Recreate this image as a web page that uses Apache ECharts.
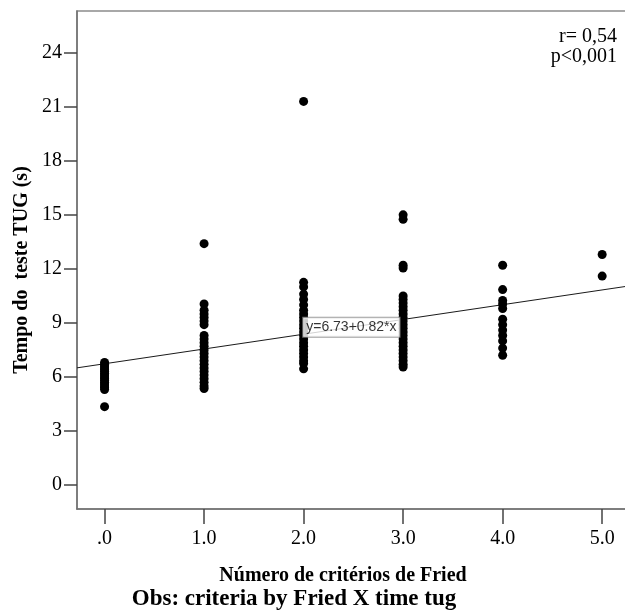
<!DOCTYPE html>
<html><head><meta charset="utf-8">
<script src="https://cdn.jsdelivr.net/npm/echarts@6/dist/echarts.min.js"></script>
<style>html,body{margin:0;padding:0;background:#fff}#c{width:625px;height:614px}</style>
</head><body><div id="c"></div>
<script>
// Number of Fried criteria (x) and TUG times in seconds (y), one array per column
const criteria = [0, 1, 2, 3, 4, 5];
const tugCrit0 = [6.8, 6.7, 6.6, 6.5, 6.4, 6.3, 6.2, 6.1, 6.0, 5.9, 5.8, 5.7, 5.6, 5.5, 5.4, 5.3, 4.35];
const tugCrit1 = [13.4, 10.05, 9.7, 9.5, 9.3, 9.1, 8.9, 8.3, 8.1, 7.9, 7.7, 7.5, 7.3, 7.1, 6.9, 6.7, 6.5, 6.3, 6.1, 5.9, 5.7, 5.5, 5.35];
const tugCrit2 = [21.3, 11.25, 11.0, 10.6, 10.3, 10.0, 9.7, 9.5, 9.3, 9.1, 8.9, 8.7, 8.5, 8.3, 8.1, 7.9, 7.7, 7.5, 7.3, 7.1, 6.9, 6.75, 6.45];
const tugCrit3 = [15.0, 14.75, 12.2, 12.05, 10.5, 10.3, 10.1, 9.9, 9.7, 9.5, 9.3, 9.1, 8.9, 8.7, 8.5, 8.3, 8.1, 7.9, 7.7, 7.5, 7.3, 7.1, 6.9, 6.7, 6.55];
const tugCrit4 = [12.2, 10.85, 10.25, 10.05, 9.8, 9.2, 8.9, 8.6, 8.3, 8.0, 7.6, 7.2];
const tugCrit5 = [12.8, 11.6];
const tugColumns = [tugCrit0, tugCrit1, tugCrit2, tugCrit3, tugCrit4, tugCrit5];

// Fitted regression (from the chart's own label)
const regIntercept = [6.73];
const regSlope = [0.82];
const regLabelText = 'y=6.73+0.82*x';
const regLabelX = 2.48;

// Axis ticks
const xTicks = [0, 1, 2, 3, 4, 5];
const xTickLabels = ['.0', '1.0', '2.0', '3.0', '4.0', '5.0'];
const yTicks = [0, 3, 6, 9, 12, 15, 18, 21, 24];
const statLines = ['r= 0,54', 'p<0,001'];

const xMin = -0.277, xMax = 5.35, yMin = -1.335, yMax = 26.32;

const points = [];
tugColumns.forEach((col, i) => col.forEach(v => points.push([criteria[i], v])));
const a = regIntercept[0], b = regSlope[0];
const regLine = [[xMin, a + b * xMin], [xMax, a + b * xMax]];

const axisColor = '#707070';
const serif = '"Liberation Serif", "Times New Roman", serif';

const chart = echarts.init(document.getElementById('c'), null, {renderer: 'canvas'});
chart.setOption({
  animation: false,
  backgroundColor: '#fff',
  grid: {left: 77, top: 11, width: 560, height: 498, show: true, borderColor: '#8c8c8c', borderWidth: 1.5,
         backgroundColor: 'transparent', containLabel: false, outerBoundsMode: 'none'},
  xAxis: {
    type: 'value', min: xMin, max: xMax,
    axisLine: {show: true, onZero: false, lineStyle: {color: axisColor, width: 1.5}},
    axisTick: {show: true, length: 15, customValues: xTicks, lineStyle: {color: '#444', width: 1.5}},
    axisLabel: {customValues: xTicks, formatter: v => xTickLabels[xTicks.indexOf(Math.round(v))] || '', fontFamily: serif, fontSize: 20, color: '#000', margin: 20},
    splitLine: {show: false}
  },
  yAxis: {
    type: 'value', min: yMin, max: yMax,
    axisLine: {show: true, onZero: false, lineStyle: {color: axisColor, width: 1.5}},
    axisTick: {show: true, length: 13, customValues: yTicks, lineStyle: {color: '#444', width: 1.5}},
    axisLabel: {customValues: yTicks, fontFamily: serif, fontSize: 20, color: '#000', margin: 15},
    splitLine: {show: false}
  },
  series: [
    {type: 'line', data: regLine, symbol: 'none', silent: true, z: 2,
     lineStyle: {color: '#1a1a1a', width: 1}},
    {type: 'scatter', data: points, symbol: 'circle', symbolSize: 9, z: 3,
     itemStyle: {color: '#000', opacity: 1}},
    {type: 'scatter', data: [[regLabelX, a + b * regLabelX]], symbolSize: 0, silent: true, z: 5,
     label: {show: true, position: 'inside', formatter: regLabelText, fontFamily: '"Liberation Sans", Arial, sans-serif', fontSize: 14, color: '#000',
       backgroundColor: '#fff', borderColor: '#8a8a8a', borderWidth: 1, padding: [3, 3, 2, 3]}}
  ],
  graphic: [
    {type: 'text', x: 617, y: 37, style: {text: statLines[0], font: '20px ' + serif, fill: '#000', align: 'right', verticalAlign: 'middle'}},
    {type: 'text', x: 617, y: 57, style: {text: statLines[1], font: '20px ' + serif, fill: '#000', align: 'right', verticalAlign: 'middle'}},
    {type: 'text', x: 22, y: 270, rotation: Math.PI / 2, style: {text: 'Tempo do  teste TUG (s)', font: 'bold 20px ' + serif, fill: '#000', align: 'center', verticalAlign: 'middle'}},
    {type: 'text', x: 343, y: 576, style: {text: 'Número de critérios de Fried', font: 'bold 20px ' + serif, fill: '#000', align: 'center', verticalAlign: 'middle'}},
    {type: 'text', x: 294, y: 599, style: {text: 'Obs: criteria by Fried X time tug', font: 'bold 23px ' + serif, fill: '#000', align: 'center', verticalAlign: 'middle'}}
  ]
});
</script></body></html>
